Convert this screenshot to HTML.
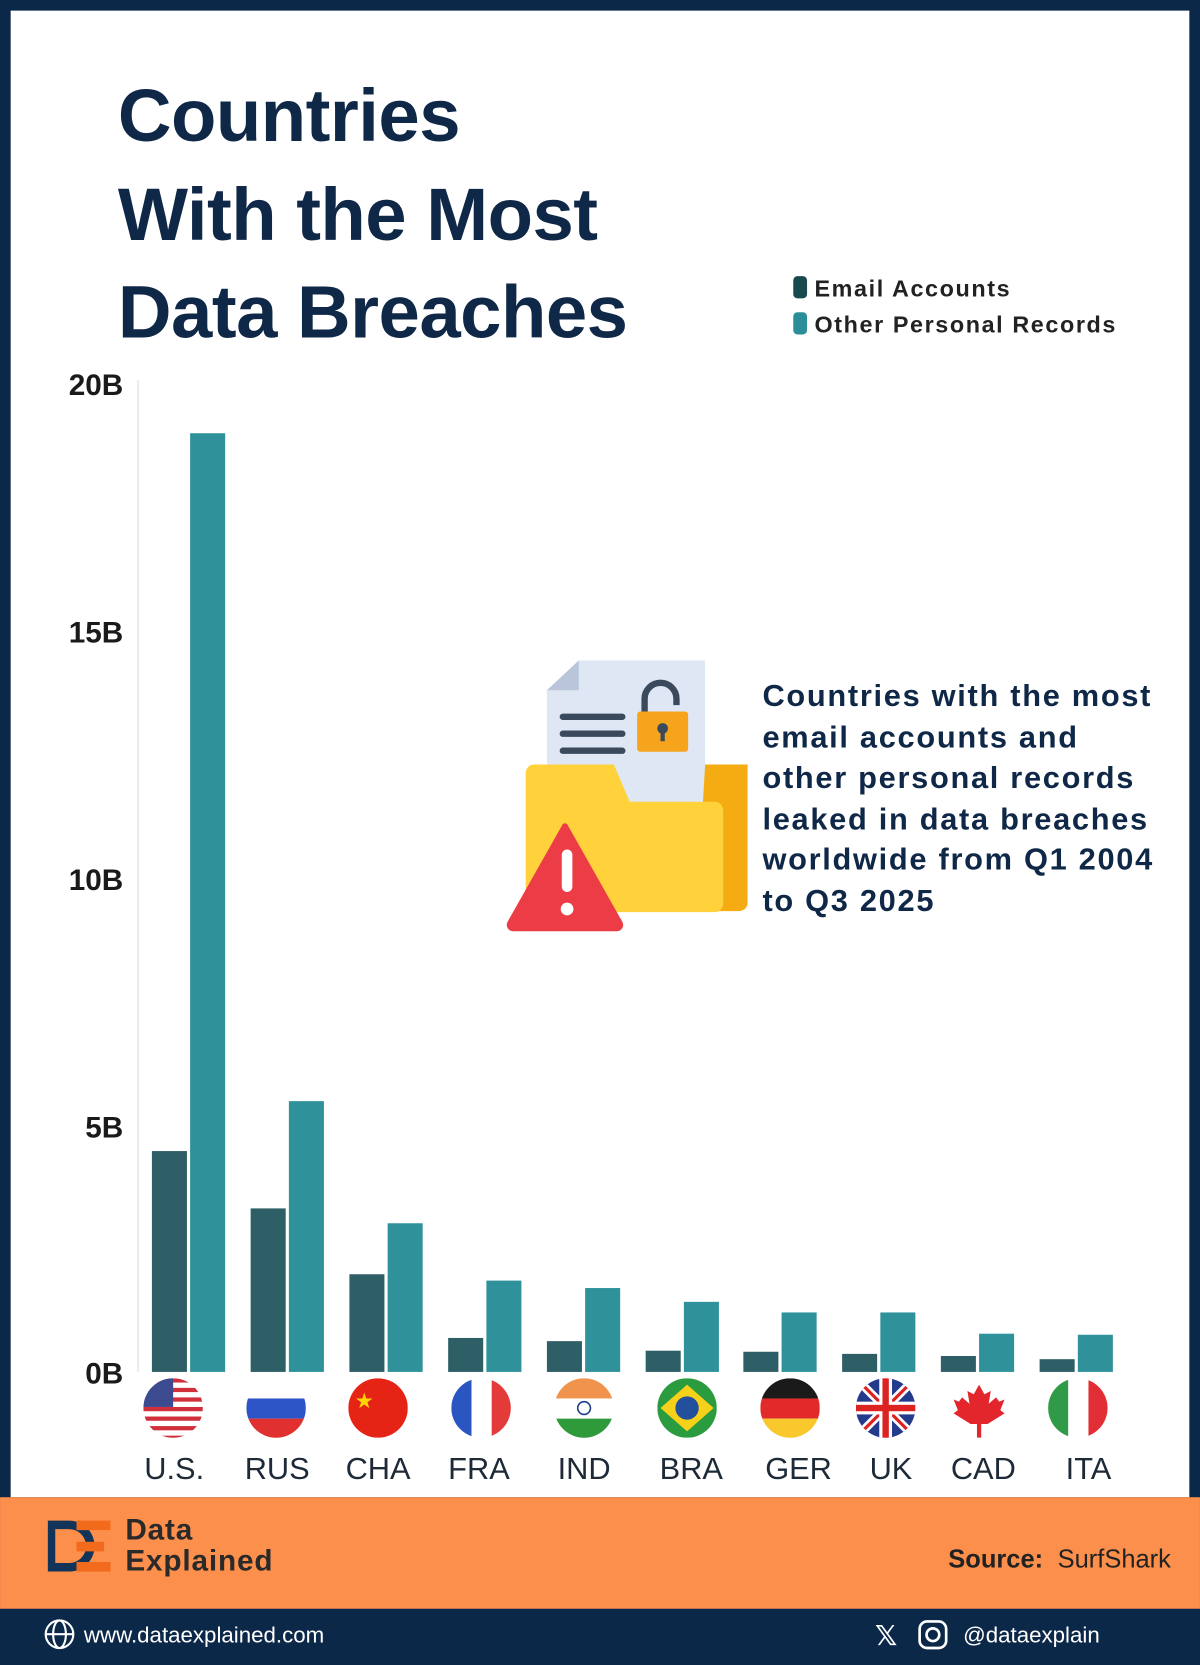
<!DOCTYPE html>
<html><head><meta charset="utf-8"><style>
html,body{margin:0;padding:0;background:#0c2849;}
svg{display:block}
text{font-family:"Liberation Sans","DejaVu Sans",sans-serif}
</style></head><body>
<svg width="1200" height="1665" viewBox="0 0 1130 1568" xmlns="http://www.w3.org/2000/svg">
<rect width="1130" height="1568" fill="#0c2849"/>
<rect x="10" y="10" width="1110" height="1400" fill="#ffffff"/>
<rect x="0" y="1410" width="1130" height="105" fill="#fc8f4c"/>
<!-- title -->
<g fill="#0f2847" font-weight="bold" font-size="70" letter-spacing="-0.5">
<text x="111" y="133">Countries</text>
<text x="111" y="226">With the Most</text>
<text x="111" y="318">Data Breaches</text>
</g>
<!-- legend -->
<rect x="747" y="260" width="13" height="21" rx="4" fill="#174a4f"/>
<rect x="747" y="294" width="13" height="21" rx="4" fill="#2a8f99"/>
<g font-size="22" font-weight="bold" fill="#222" letter-spacing="1.5">
<text x="767" y="279">Email Accounts</text>
<text x="767" y="313">Other Personal Records</text>
</g>
<!-- axis -->
<line x1="130" y1="358" x2="130" y2="1292" stroke="#e6e6e6" stroke-width="1.5"/>
<g font-size="28" font-weight="bold" fill="#1a1a1a" text-anchor="end">
<text x="116" y="372">20B</text>
<text x="116" y="605">15B</text>
<text x="116" y="838">10B</text>
<text x="116" y="1071">5B</text>
<text x="116" y="1303">0B</text>
</g>
<!-- bars -->
<g fill="#2f5f66">
<rect x="143" y="1084" width="33" height="208"/>
<rect x="236" y="1138" width="33" height="154"/>
<rect x="329" y="1200" width="33" height="92"/>
<rect x="422" y="1260" width="33" height="32"/>
<rect x="515" y="1263" width="33" height="29"/>
<rect x="608" y="1272" width="33" height="20"/>
<rect x="700" y="1273" width="33" height="19"/>
<rect x="793" y="1275" width="33" height="17"/>
<rect x="886" y="1277" width="33" height="15"/>
<rect x="979" y="1280" width="33" height="12"/>
</g>
<g fill="#2f919a">
<rect x="179" y="408" width="33" height="884"/>
<rect x="272" y="1037" width="33" height="255"/>
<rect x="365" y="1152" width="33" height="140"/>
<rect x="458" y="1206" width="33" height="86"/>
<rect x="551" y="1213" width="33" height="79"/>
<rect x="644" y="1226" width="33" height="66"/>
<rect x="736" y="1236" width="33" height="56"/>
<rect x="829" y="1236" width="33" height="56"/>
<rect x="922" y="1256" width="33" height="36"/>
<rect x="1015" y="1257" width="33" height="35"/>
</g>
<!-- flags -->
<defs>
<clipPath id="c1"><circle cx="163" cy="1326" r="28"/></clipPath>
<clipPath id="c2"><circle cx="260" cy="1326" r="28"/></clipPath>
<clipPath id="c3"><circle cx="356" cy="1326" r="28"/></clipPath>
<clipPath id="c4"><circle cx="453" cy="1326" r="28"/></clipPath>
<clipPath id="c5"><circle cx="550" cy="1326" r="28"/></clipPath>
<clipPath id="c6"><circle cx="647" cy="1326" r="28"/></clipPath>
<clipPath id="c7"><circle cx="744" cy="1326" r="28"/></clipPath>
<clipPath id="c8"><circle cx="834" cy="1326" r="28"/></clipPath>
<clipPath id="c9"><circle cx="922" cy="1326" r="28"/></clipPath>
<clipPath id="c10"><circle cx="1015" cy="1326" r="28"/></clipPath>
</defs>
<g clip-path="url(#c1)"><rect x="135" y="1298" width="56" height="56" fill="#fff"/>
<g fill="#d22f3c"><rect x="135" y="1298" width="56" height="4"/><rect x="135" y="1307" width="56" height="4"/><rect x="135" y="1316" width="56" height="4"/><rect x="135" y="1325" width="56" height="4"/><rect x="135" y="1334" width="56" height="4"/><rect x="135" y="1343" width="56" height="4"/><rect x="135" y="1352" width="56" height="4"/></g>
<rect x="135" y="1298" width="28" height="27" fill="#3c4a8f"/></g>
<g clip-path="url(#c2)"><rect x="232" y="1298" width="56" height="19" fill="#fff"/><rect x="232" y="1317" width="56" height="19" fill="#2d55c8"/><rect x="232" y="1336" width="56" height="19" fill="#e03030"/></g>
<g clip-path="url(#c3)"><rect x="328" y="1298" width="56" height="56" fill="#e52416"/><text x="334" y="1326" font-size="20" fill="#ffd400">★</text></g>
<g clip-path="url(#c4)"><rect x="425" y="1298" width="19" height="56" fill="#2956c0"/><rect x="444" y="1298" width="19" height="56" fill="#fff"/><rect x="463" y="1298" width="19" height="56" fill="#e33a3a"/></g>
<g clip-path="url(#c5)"><rect x="522" y="1298" width="56" height="19" fill="#f0934d"/><rect x="522" y="1317" width="56" height="19" fill="#fff"/><rect x="522" y="1336" width="56" height="19" fill="#2e9a3a"/><circle cx="550" cy="1326" r="6" fill="none" stroke="#1c3c8c" stroke-width="1.5"/></g>
<g clip-path="url(#c6)"><rect x="619" y="1298" width="56" height="56" fill="#2a9b3f"/><polygon points="647,1304 672,1326 647,1348 622,1326" fill="#f5d11a"/><circle cx="647" cy="1326" r="11" fill="#23509c"/></g>
<g clip-path="url(#c7)"><rect x="716" y="1298" width="56" height="19" fill="#1a1a1a"/><rect x="716" y="1317" width="56" height="19" fill="#e22a2a"/><rect x="716" y="1336" width="56" height="19" fill="#f8c82c"/></g>
<g clip-path="url(#c8)"><rect x="806" y="1298" width="56" height="56" fill="#243a8c"/><line x1="806" y1="1298" x2="862" y2="1354" stroke="#fff" stroke-width="8"/><line x1="862" y1="1298" x2="806" y2="1354" stroke="#fff" stroke-width="8"/><line x1="806" y1="1298" x2="862" y2="1354" stroke="#d22" stroke-width="3"/><line x1="862" y1="1298" x2="806" y2="1354" stroke="#d22" stroke-width="3"/><rect x="806" y="1320" width="56" height="12" fill="#fff"/><rect x="828" y="1298" width="12" height="56" fill="#fff"/><rect x="806" y="1323" width="56" height="6" fill="#d22"/><rect x="831" y="1298" width="6" height="56" fill="#d22"/></g>
<g clip-path="url(#c9)"><rect x="894" y="1298" width="56" height="56" fill="#fff"/><polygon points="922,1304 927,1313 933,1310 931,1322 938,1316 941,1320 946,1318 942,1328 946,1331 930,1341 924,1341 924,1354 920,1354 920,1341 914,1341 898,1331 902,1328 898,1318 903,1320 906,1316 913,1322 911,1310 917,1313" fill="#e2262b"/></g>
<g clip-path="url(#c10)"><rect x="987" y="1298" width="19" height="56" fill="#2f9a47"/><rect x="1006" y="1298" width="19" height="56" fill="#fff"/><rect x="1025" y="1298" width="19" height="56" fill="#e22f36"/></g>
<!-- country labels -->
<g font-size="29" fill="#1e2a38" text-anchor="middle">
<text x="164" y="1393">U.S.</text><text x="261" y="1393">RUS</text><text x="356" y="1393">CHA</text><text x="451" y="1393">FRA</text><text x="550" y="1393">IND</text><text x="651" y="1393">BRA</text><text x="752" y="1393">GER</text><text x="839" y="1393">UK</text><text x="926" y="1393">CAD</text><text x="1025" y="1393">ITA</text>
</g>
<!-- icon -->
<polygon points="515,650 545,622 664,622 664,760 515,760" fill="#dfe7f4"/>
<polygon points="515,650 545,622 545,650" fill="#b9c6da"/>
<g fill="#3a4a5c"><rect x="527" y="672" width="62" height="6" rx="3"/><rect x="527" y="688" width="62" height="6" rx="3"/><rect x="527" y="704" width="62" height="6" rx="3"/></g>
<path d="M607 670 v-12 a15 15 0 0 1 30 0 v6" fill="none" stroke="#3a4a5c" stroke-width="6"/>
<rect x="600" y="670" width="48" height="38" rx="3" fill="#f5a41c"/>
<circle cx="624" cy="686" r="5" fill="#3a4a5c"/><rect x="622" y="688" width="4" height="10" fill="#3a4a5c"/>
<path d="M664 720 h40 v130 a8 8 0 0 1 -8 8 h-40 z" fill="#f5ac12"/>
<path d="M495 728 a8 8 0 0 1 8 -8 h75 l15 35 h80 a8 8 0 0 1 8 8 v88 a8 8 0 0 1 -8 8 h-170 a8 8 0 0 1 -8 -8 z" fill="#ffd23c"/>
<path d="M534 776 l52 92 a6 6 0 0 1 -5 9 h-98 a6 6 0 0 1 -5 -9 l52 -92 a3 3 0 0 1 4 0z" fill="#ec3c45"/>
<rect x="529" y="800" width="10" height="40" rx="5" fill="#fff"/><circle cx="534" cy="856" r="6" fill="#fff"/>
<g font-size="29" font-weight="bold" fill="#0f2847" letter-spacing="1.6">
<text x="718" y="665">Countries with the most</text>
<text x="718" y="704">email accounts and</text>
<text x="718" y="742">other personal records</text>
<text x="718" y="781">leaked in data breaches</text>
<text x="718" y="819">worldwide from Q1 2004</text>
<text x="718" y="858">to Q3 2025</text>
</g>
<!-- footer orange -->
<path d="M45 1432 h20 a24 24 0 0 1 0 48 h-20 z" fill="#123459"/>
<path d="M52 1440 h13 a16 16 0 0 1 0 32 h-13 z" fill="#fc8f4c"/>
<g fill="#f26a1b"><rect x="72" y="1432" width="32" height="9"/><rect x="72" y="1452" width="26" height="9"/><rect x="72" y="1471" width="32" height="9"/></g>
<g font-size="28" font-weight="bold" fill="#2a2a2a" letter-spacing="0.8">
<text x="118" y="1450">Data</text><text x="118" y="1479">Explained</text>
</g>
<text x="893" y="1476" font-size="24" font-weight="bold" fill="#222" letter-spacing="0">Source:</text>
<text x="996" y="1476" font-size="24" fill="#222">SurfShark</text>
<!-- footer navy -->
<circle cx="56" cy="1539" r="13" fill="none" stroke="#fff" stroke-width="2"/>
<ellipse cx="56" cy="1539" rx="6" ry="13" fill="none" stroke="#fff" stroke-width="2"/>
<line x1="43" y1="1539" x2="69" y2="1539" stroke="#fff" stroke-width="2"/>
<text x="79" y="1547" font-size="21" fill="#fff">www.dataexplained.com</text>
<text x="824" y="1549" font-size="26" font-weight="bold" fill="#fff">𝕏</text>
<rect x="866" y="1527" width="25" height="25" rx="7" fill="none" stroke="#fff" stroke-width="2.5"/>
<circle cx="878.5" cy="1539.5" r="6" fill="none" stroke="#fff" stroke-width="2.5"/>
<text x="907" y="1547" font-size="21" fill="#fff">@dataexplain</text>
</svg>
</body></html>
